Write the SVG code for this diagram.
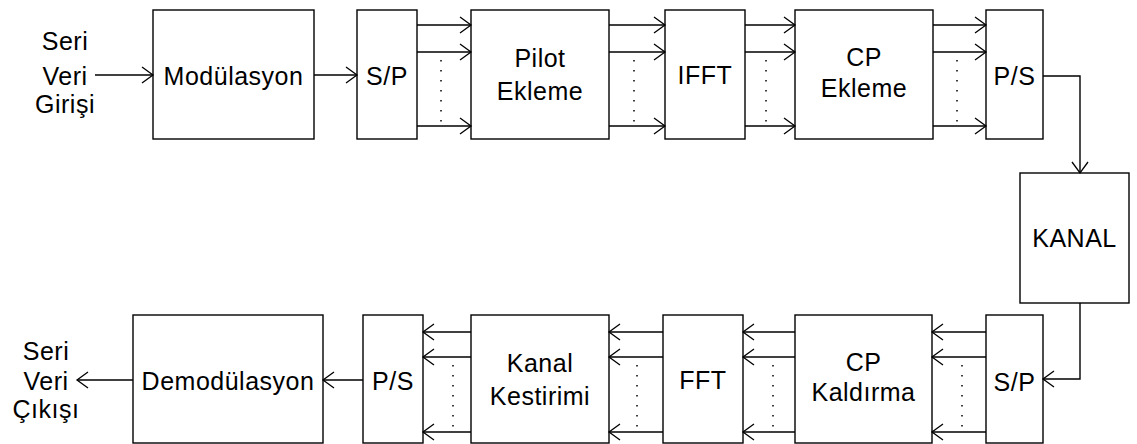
<svg xmlns="http://www.w3.org/2000/svg" width="1137" height="444" viewBox="0 0 1137 444">
  <defs>
    <style>
      .box { fill: #fff; stroke: #000; stroke-width: 1.4; }
      .lbl { font-family: "Liberation Sans", Arial, sans-serif; font-size: 25px; letter-spacing: 0.5px; fill: #000; text-anchor: middle; }
      .wire { fill: none; stroke: #000; stroke-width: 1.4; }
      .arrow { marker-end: url(#head); }
      .dots { fill: none; stroke: #000; stroke-width: 1.5; stroke-dasharray: 1.5 8.5; }
    </style>
    <marker id="head" markerUnits="userSpaceOnUse" markerWidth="14" markerHeight="20" viewBox="-12 -10 14 20" refX="0" refY="0" orient="auto">
      <path d="M-11,-8 L0,0 L-11,8" fill="none" stroke="#000" stroke-width="1.3"/>
    </marker>
  </defs>
  <rect width="1137" height="444" fill="#fff"/>

  <!-- transmitter chain -->
  <g id="input-label">
    <text class="lbl" x="65" y="50">Seri</text>
    <text class="lbl" x="65" y="85">Veri</text>
    <text class="lbl" x="65" y="113">Girişi</text>
  </g>
  <g id="modulasyon">
    <rect class="box" x="153" y="10" width="161" height="129"/>
    <text class="lbl" x="233.5" y="85">Modülasyon</text>
  </g>
  <g id="sp-tx">
    <rect class="box" x="357" y="10" width="60" height="129"/>
    <text class="lbl" x="387" y="85">S/P</text>
  </g>
  <g id="pilot-ekleme">
    <rect class="box" x="471" y="10" width="138" height="129"/>
    <text class="lbl" x="540" y="67">Pilot</text>
    <text class="lbl" x="540" y="100">Ekleme</text>
  </g>
  <g id="ifft">
    <rect class="box" x="665" y="10" width="80" height="129"/>
    <text class="lbl" x="705" y="84">IFFT</text>
  </g>
  <g id="cp-ekleme">
    <rect class="box" x="795" y="10" width="138" height="129"/>
    <text class="lbl" x="864" y="66">CP</text>
    <text class="lbl" x="864" y="97">Ekleme</text>
  </g>
  <g id="ps-tx">
    <rect class="box" x="986" y="10" width="57" height="129"/>
    <text class="lbl" x="1014.5" y="85">P/S</text>
  </g>

  <!-- channel -->
  <g id="kanal">
    <rect class="box" x="1020" y="173" width="109" height="130"/>
    <text class="lbl" x="1074.5" y="247">KANAL</text>
  </g>

  <!-- receiver chain -->
  <g id="sp-rx">
    <rect class="box" x="986" y="315" width="57" height="128"/>
    <text class="lbl" x="1014.5" y="391">S/P</text>
  </g>
  <g id="cp-kaldirma">
    <rect class="box" x="795" y="315" width="137" height="128"/>
    <text class="lbl" x="863.5" y="371">CP</text>
    <text class="lbl" x="863.5" y="401">Kaldırma</text>
  </g>
  <g id="fft">
    <rect class="box" x="663" y="315" width="80" height="128"/>
    <text class="lbl" x="703" y="389">FFT</text>
  </g>
  <g id="kanal-kestirimi">
    <rect class="box" x="471" y="315" width="138" height="128"/>
    <text class="lbl" x="540" y="372">Kanal</text>
    <text class="lbl" x="540" y="405">Kestirimi</text>
  </g>
  <g id="ps-rx">
    <rect class="box" x="363" y="315" width="60" height="128"/>
    <text class="lbl" x="393" y="390">P/S</text>
  </g>
  <g id="demodulasyon">
    <rect class="box" x="133" y="315" width="190" height="128"/>
    <text class="lbl" x="228" y="390">Demodülasyon</text>
  </g>
  <g id="output-label">
    <text class="lbl" x="46" y="360">Seri</text>
    <text class="lbl" x="46" y="390">Veri</text>
    <text class="lbl" x="46" y="418">Çıkışı</text>
  </g>

  <!-- connectors -->
  <g id="connectors">
    <path class="wire arrow" d="M95,75 H153"/>
    <path class="wire arrow" d="M314,75 H357"/>

    <path class="wire arrow" d="M417,25 H471"/>
    <path class="wire arrow" d="M417,52 H471"/>
    <path class="wire arrow" d="M417,126 H471"/>
    <path class="dots" d="M441,60 V122"/>

    <path class="wire arrow" d="M609,25 H665"/>
    <path class="wire arrow" d="M609,52 H665"/>
    <path class="wire arrow" d="M609,126 H665"/>
    <path class="dots" d="M634,60 V122"/>

    <path class="wire arrow" d="M745,25 H795"/>
    <path class="wire arrow" d="M745,52 H795"/>
    <path class="wire arrow" d="M745,126 H795"/>
    <path class="dots" d="M766,60 V122"/>

    <path class="wire arrow" d="M933,25 H986"/>
    <path class="wire arrow" d="M933,52 H986"/>
    <path class="wire arrow" d="M933,126 H986"/>
    <path class="dots" d="M957,60 V122"/>

    <path class="wire arrow" d="M1043,76 H1080 V173"/>
    <path class="wire arrow" d="M1080,303 V379 H1043"/>

    <path class="wire arrow" d="M986,332 H932"/>
    <path class="wire arrow" d="M986,357 H932"/>
    <path class="wire arrow" d="M986,432 H932"/>
    <path class="dots" d="M962,365 V427"/>

    <path class="wire arrow" d="M795,332 H743"/>
    <path class="wire arrow" d="M795,357 H743"/>
    <path class="wire arrow" d="M795,432 H743"/>
    <path class="dots" d="M773,365 V427"/>

    <path class="wire arrow" d="M663,332 H609"/>
    <path class="wire arrow" d="M663,357 H609"/>
    <path class="wire arrow" d="M663,432 H609"/>
    <path class="dots" d="M637,365 V427"/>

    <path class="wire arrow" d="M471,332 H423"/>
    <path class="wire arrow" d="M471,357 H423"/>
    <path class="wire arrow" d="M471,432 H423"/>
    <path class="dots" d="M453,365 V427"/>

    <path class="wire arrow" d="M363,380 H323"/>
    <path class="wire arrow" d="M133,380 H77"/>
  </g>
</svg>
